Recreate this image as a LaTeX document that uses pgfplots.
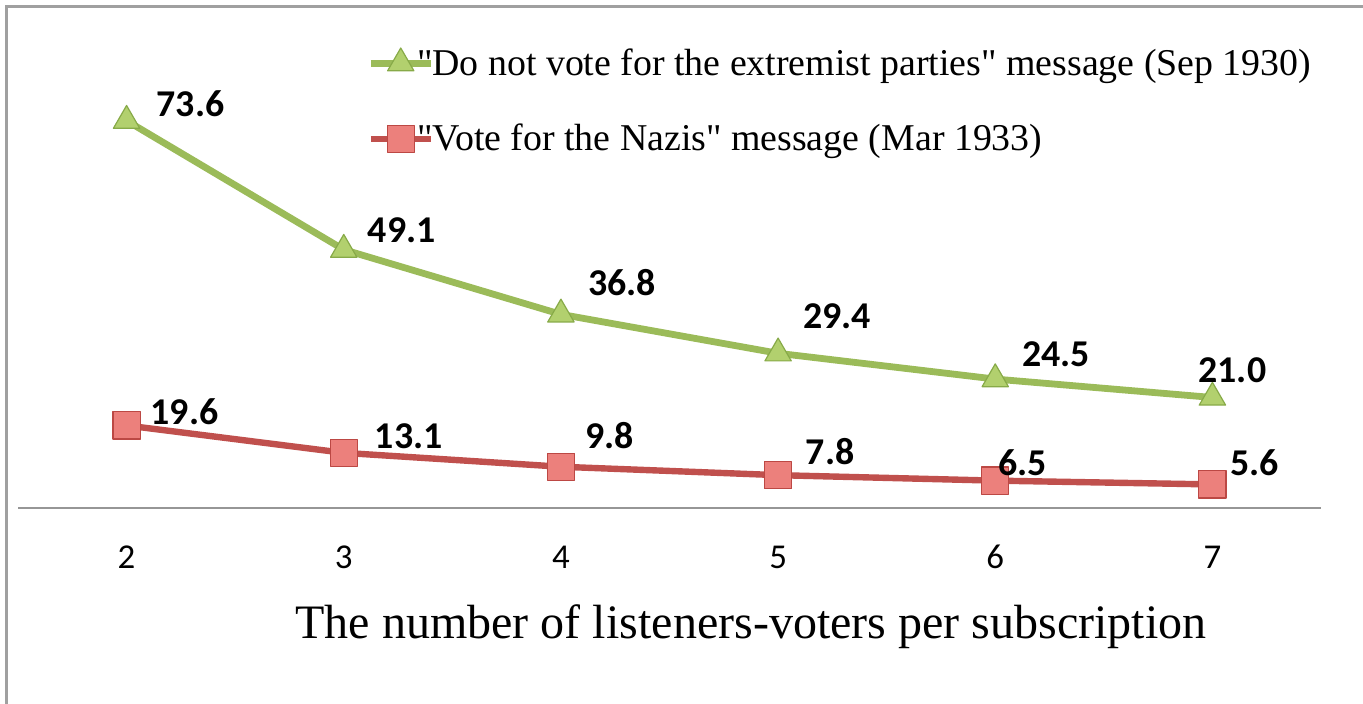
\documentclass[border=0pt]{standalone}
\usepackage{pgfplots}
\pgfplotsset{compat=1.18}
\usepackage{pgfplotstable}
\usepackage{fontspec}
\setmainfont{Liberation Serif}[Ligatures=TeXOff]
\newfontfamily\calibri{Carlito}

\definecolor{frameGray}{RGB}{160,160,160}
\definecolor{axisGray}{RGB}{150,150,150}
\definecolor{greenLine}{RGB}{155,187,89}
\definecolor{greenFill}{RGB}{178,208,110}
\definecolor{greenEdge}{RGB}{135,170,72}
\definecolor{redLine}{RGB}{192,80,77}
\definecolor{redFill}{RGB}{236,128,124}
\definecolor{redEdge}{RGB}{188,72,68}

% x = listeners per subscription, y = value, dx/dy = label offset (bp)
\pgfplotstableread{
x  y     dx    dy
2  73.6  32    8.5
3  49.1  29    9.5
4  36.8  30.5  16
5  29.4  29.5  18.5
6  24.5  30.5  12.5
7  21.0  10    13.5
}\sepdata
\pgfplotstableread{
x  y     dx    dy
2  19.6  29    7
3  13.1  32.5  8.5
4  9.8   24.5  15.5
5  7.8   26    12
6  6.5   13.5  9
7  5.6   21    11
}\mardata

\pgfplotsset{
  common/.style={
    scale only axis,
    width=651.5bp, height=210.5bp,
    xmin=1.5, xmax=7.5, ymin=0,
    clip=false,
    /pgf/number format/assume math mode=true,
    point meta=explicit,
    visualization depends on={\thisrow{dx}\as\ldx},
    visualization depends on={\thisrow{dy}\as\ldy},
    nodes near coords={\pgfmathprintnumber[fixed,fixed zerofill,precision=1]{\pgfplotspointmeta}},
    every node near coord/.append style={anchor=center, inner sep=0pt,
      xshift=\ldx bp, yshift=\ldy bp,
      font=\calibri\bfseries\fontsize{19}{19}\selectfont, text=black},
  },
  greenstyle/.style={color=greenLine, line width=3.4bp, line join=round,
    mark=triangle*, mark size=7.6bp,
    mark options={fill=greenFill, draw=greenEdge, line width=0.6bp, solid}},
  redstyle/.style={color=redLine, line width=3.2bp, line join=round,
    mark=square*, mark size=6.8bp,
    mark options={fill=redFill, draw=redEdge, line width=0.6bp, solid}},
}

\begin{document}
\begin{tikzpicture}
% outer frame of the chart area
\draw[frameGray, line width=1.5bp] (-5.5bp,-120bp) -- (-5.5bp,250.5bp) -- (700bp,250.5bp);

\begin{axis}[common,
  ymax=80,
  axis x line=bottom, axis y line=none,
  axis line style={axisGray, line width=1bp, -},
  xtick={2,3,4,5,6,7},
  major tick length=0pt,
  xticklabel style={anchor=center, yshift=-24.5bp,
    font=\calibri\fontsize{17.5}{18}\selectfont},
  xlabel={The number of listeners-voters per subscription},
  xlabel style={at={(axis description cs:0.5,0)}, anchor=base,
    xshift=40.75bp, yshift=-65bp, font=\fontsize{24.1}{25}\selectfont},
  legend style={at={(axis description cs:0.2678,0.9667)}, anchor=west,
    draw=none, fill=none, inner sep=0pt, row sep=22bp, column sep=-9bp,
    font=\fontsize{19}{20}\selectfont,
    nodes={inner sep=0.5bp}},
  legend cell align=left,
  legend image code/.code={%
    \draw[mark repeat=2,mark phase=2] plot coordinates {(0bp,0bp) (15bp,0bp) (30bp,0bp)};},
]
\addplot[greenstyle] table[x=x, y=y, meta=y] {\sepdata};
\addlegendentry{"Do not vote for the extremist parties" message (Sep 1930)}
\addlegendimage{redstyle}
\addlegendentry{"Vote for the Nazis" message (Mar 1933)}
\end{axis}

\begin{axis}[common,
  ymax=100,
  hide x axis, hide y axis,
]
\addplot[redstyle] table[x=x, y=y, meta=y] {\mardata};
\end{axis}

\pgfresetboundingbox
\useasboundingbox (-9bp,-98bp) rectangle (672.5bp,254bp);
\end{tikzpicture}
\end{document}
